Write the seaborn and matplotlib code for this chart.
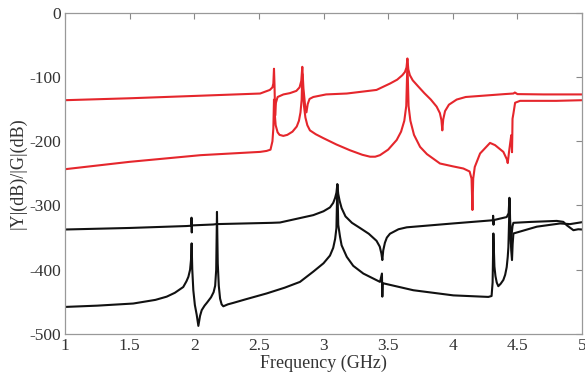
import numpy as np
import pandas as pd
import matplotlib
matplotlib.use("Agg")
import matplotlib.pyplot as plt
import seaborn as sns

# Red curve, upper branch
red_a_x = [1.0, 1.5, 2.05, 2.51, 2.585, 2.605, 2.612, 2.617, 2.621, 2.626, 2.632, 2.645,
           2.69, 2.74, 2.79, 2.815, 2.828, 2.836, 2.845, 2.858, 2.868, 2.878, 2.892,
           2.921, 3.02, 3.18, 3.41, 3.515, 3.57, 3.61, 3.63, 3.642, 3.649, 3.656, 3.668,
           3.69, 3.73, 3.78, 3.83, 3.875, 3.90, 3.912, 3.919, 3.926, 3.94, 3.97, 4.03,
           4.1, 4.3, 4.40, 4.469, 4.48, 4.50, 4.7, 5.0]
red_a_y = [-136, -133, -129, -125.6, -120, -116, -110, -87, -112, -160, -140, -131,
           -127, -125, -121.5, -116, -106, -84, -118, -145, -155, -142, -134,
           -131, -127, -125.6, -120, -110, -104, -97, -92, -85, -71, -88, -97,
           -105, -114, -125, -135, -146, -156, -167, -183, -166, -153, -143, -135,
           -131, -128, -126.5, -125.6, -124, -126.5, -127, -127]

# Red curve, lower branch
red_b_x = [1.0, 1.5, 2.05, 2.51, 2.56, 2.59, 2.605, 2.612, 2.617, 2.622, 2.630, 2.645,
           2.66, 2.689, 2.72, 2.76, 2.793, 2.81, 2.822, 2.831, 2.836, 2.842, 2.849, 2.86,
           2.875, 2.895, 2.94, 2.998, 3.1, 3.205, 3.3, 3.36, 3.40, 3.437, 3.5, 3.566,
           3.6, 3.625, 3.64, 3.649, 3.658, 3.672, 3.70, 3.747, 3.80, 3.901, 4.0, 4.082,
           4.13, 4.145, 4.152, 4.158, 4.17, 4.211, 4.288, 4.327, 4.391, 4.418, 4.425,
           4.435, 4.452, 4.456, 4.458, 4.460, 4.462, 4.469, 4.482, 4.52, 4.8, 5.0]
red_b_y = [-243.5, -232, -221.6, -216.5, -215, -213, -200, -180, -135, -155, -175, -186,
           -190, -191.6, -190, -185, -177, -168, -155, -135, -95, -125, -145, -163,
           -175, -183, -189, -195, -205, -214, -221, -224, -224, -221.6, -213, -198,
           -185, -168, -145, -78, -145, -168, -190, -208.7, -220, -234.6, -239, -242.4,
           -247, -258, -307, -258, -240, -219, -202.5, -206, -216.5, -228, -234,
           -216.5, -190.5, -200, -217, -195, -165, -156.7, -140, -137, -137, -136]

# Black curve, upper branch
black_c_x = [1.0, 1.5, 1.94, 1.978, 1.979, 1.981, 1.982, 2.147, 2.17, 2.6, 2.663, 2.921,
             3.0, 3.05, 3.075, 3.09, 3.10, 3.107, 3.114, 3.125, 3.14, 3.17, 3.22, 3.282,
             3.35, 3.41, 3.435, 3.448, 3.455, 3.462, 3.475, 3.49, 3.514, 3.58, 3.644,
             4.0, 4.310, 4.312, 4.315, 4.317, 4.417, 4.432, 4.438, 4.442, 4.450, 4.455,
             4.462, 4.469, 4.6, 4.804, 4.855, 4.881, 4.933, 4.97, 5.0]
black_c_y = [-337.4, -335, -332, -331.5, -319, -342, -331, -329.6, -329, -327, -326.5, -315,
             -309, -303, -296, -288, -280, -267, -282, -293, -304, -317, -327, -335,
             -344, -355, -364, -375, -385, -370, -358, -350, -344, -337, -334,
             -328, -323, -316, -330, -322.7, -318, -312, -288, -320, -360, -345,
             -332, -327, -325.6, -324, -325.5, -330.7, -338.5, -337, -337.4]

# Black curve, lower branch
black_d_x = [1.0, 1.25, 1.528, 1.7, 1.787, 1.85, 1.915, 1.94, 1.955, 1.968, 1.975, 1.980,
             1.985, 1.993, 2.005, 2.019, 2.032, 2.045, 2.058, 2.08, 2.10, 2.13, 2.15,
             2.162, 2.170, 2.176, 2.182, 2.19, 2.20, 2.212, 2.225, 2.26, 2.302, 2.4,
             2.56, 2.7, 2.818, 2.921, 3.0, 3.05, 3.075, 3.09, 3.10, 3.107, 3.114, 3.128,
             3.14, 3.18, 3.23, 3.308, 3.437, 3.452, 3.455, 3.458, 3.695, 4.004, 4.275,
             4.300, 4.308, 4.314, 4.318, 4.322, 4.33, 4.34, 4.352, 4.37, 4.391, 4.405,
             4.417, 4.425, 4.430, 4.436, 4.440, 4.445, 4.452, 4.458, 4.463, 4.469, 4.65,
             4.83, 4.907, 5.0]
black_d_y = [-458, -456, -452.7, -447, -442, -436, -427, -418, -411, -400, -385, -359,
             -400, -432, -455, -470, -487.5, -472, -463, -456, -451, -443, -435,
             -425, -400, -310, -390, -425, -445, -454, -457, -454, -451.7, -446,
             -437, -428, -419, -403, -390, -378, -366, -352, -335, -267, -330, -349,
             -362, -380, -394, -406, -419, -406, -442, -421, -432, -440, -442.4,
             -441, -420, -343.6, -370, -395, -410, -420, -425.7, -422, -416, -408,
             -396, -380, -365, -320, -290, -340, -370, -385, -360, -343.6, -333,
             -328, -329, -326]

frames = []
for name, xs, ys in [("red_a", red_a_x, red_a_y), ("red_b", red_b_x, red_b_y),
                     ("black_c", black_c_x, black_c_y), ("black_d", black_d_x, black_d_y)]:
    frames.append(pd.DataFrame({"freq": xs, "level": ys, "curve": name}))
df = pd.concat(frames, ignore_index=True)

sns.set_style("white")
plt.rcParams["font.family"] = ["Liberation Serif", "DejaVu Serif"]
plt.rcParams["axes.unicode_minus"] = False

fig = plt.figure(figsize=(5.85, 3.79), dpi=100)
ax = fig.add_axes([0.111, 0.119, 0.884, 0.847])

palette = {"red_a": "#e5262c", "red_b": "#e5262c", "black_c": "#111111", "black_d": "#111111"}
sns.lineplot(
    data=df,
    x="freq",
    y="level",
    hue="curve",
    palette=palette,
    sort=False,
    estimator=None,
    linewidth=1.5,
    legend=False,
    ax=ax
)

ax.set_xlim(1, 5)
ax.set_ylim(-500, 0)
ax.set_xticks([1, 1.5, 2, 2.5, 3, 3.5, 4, 4.5, 5])
ax.set_xticklabels(["1", "1.5", "2", "2.5", "3", "3.5", "4", "4.5", "5"])
ax.set_yticks([-500, -400, -300, -200, -100, 0])
ax.tick_params(direction="in", length=4, width=0.8, color="#888888",
               top=True, right=True, labelsize=12.5, labelcolor="#333333", pad=3)
for spine in ax.spines.values():
    spine.set_color("#999999")
    spine.set_linewidth(0.9)

ax.set_xlabel("Frequency (GHz)", fontsize=13, color="#333333", labelpad=0.5)
ax.set_ylabel("|Y|(dB)/|G|(dB)", fontsize=13, color="#333333", labelpad=2)

fig.savefig("out.png", dpi=100)
